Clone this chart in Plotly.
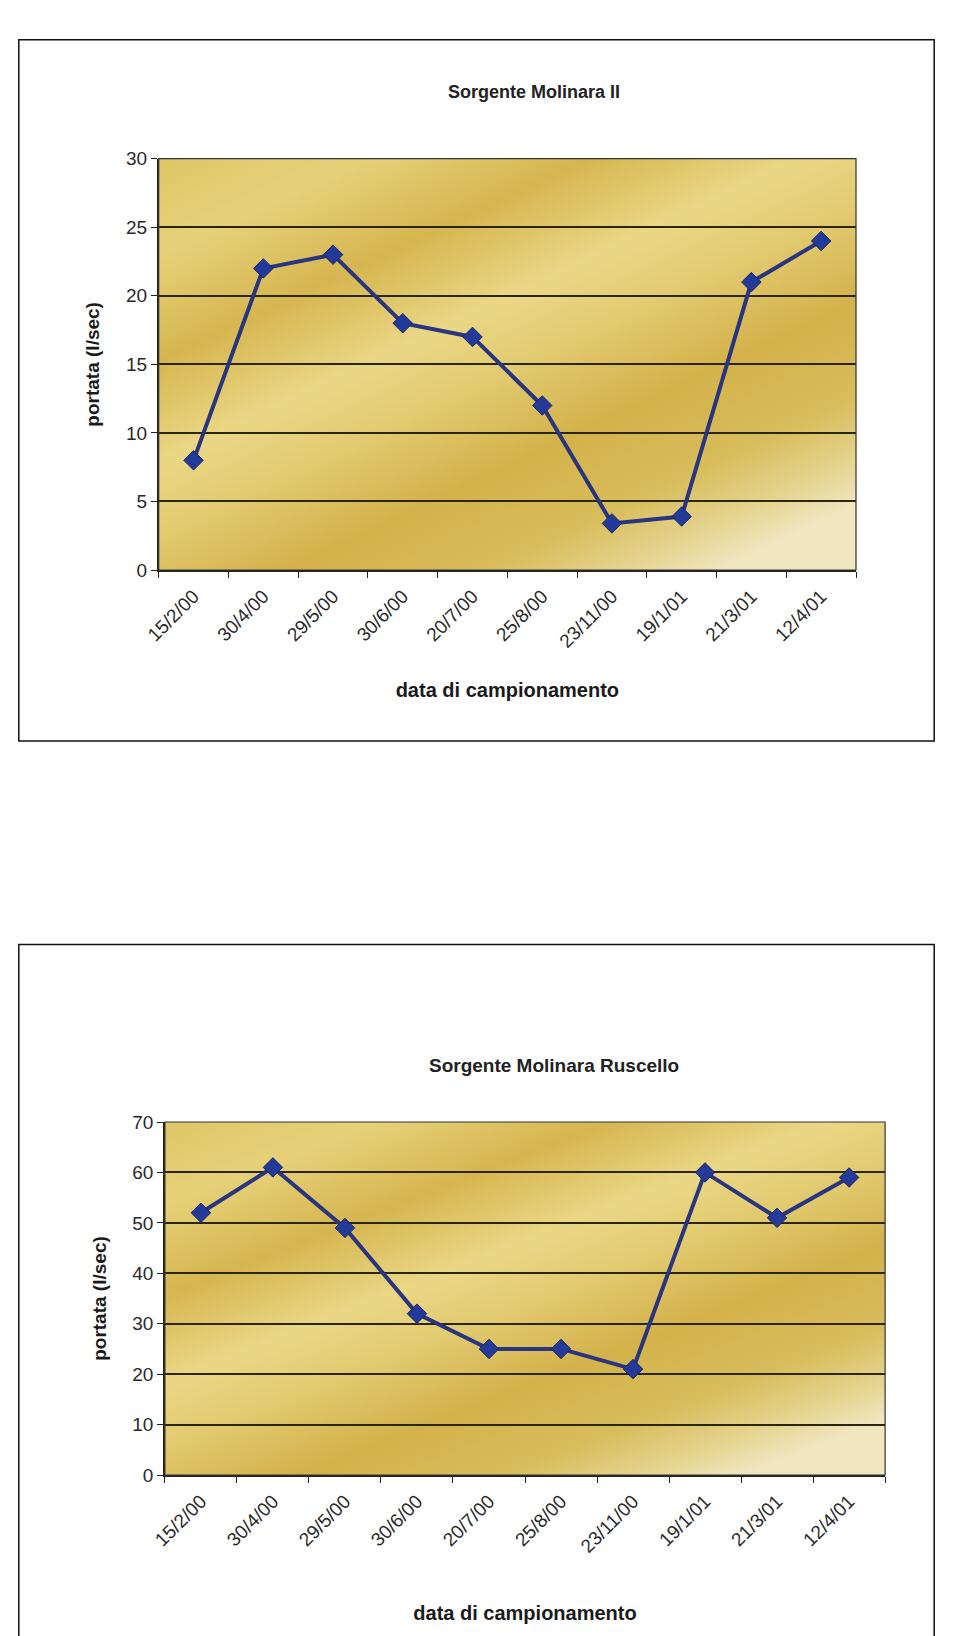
import base64
import plotly.graph_objects as go

# Sampling dates (category axis) and measured discharge in l/sec
date_labels = ["15/2/00", "30/4/00", "29/5/00", "30/6/00", "20/7/00",
               "25/8/00", "23/11/00", "19/1/01", "21/3/01", "12/4/01"]
portata_molinara_ii = [8, 22, 23, 18, 17, 12, 3.4, 3.9, 21, 24]
portata_ruscello = [52, 61, 49, 32, 25, 25, 21, 60, 51, 59]

titles = ["Sorgente Molinara II", "Sorgente Molinara Ruscello"]
y_ticks_top = [0, 5, 10, 15, 20, 25, 30]
y_ticks_bottom = [0, 10, 20, 30, 40, 50, 60, 70]

W, H = 954, 1636
FONT = "Arial, Liberation Sans, sans-serif"
LINE_COLOR = "#29357f"
MARKER_COLOR = "#243a98"


def px_x(x):
    return x / W


def px_y(y):
    return 1 - y / H


def gold_background():
    stops = [
        (0.00, "#dfc566"), (0.14, "#e6d17a"), (0.30, "#d6b650"),
        (0.45, "#ead786"), (0.56, "#e2ca70"), (0.70, "#d3b24b"),
        (0.84, "#d8bd5c"), (0.94, "#e6d694"), (1.00, "#f0e6c0"),
    ]
    stop_xml = "".join(
        f'<stop offset="{o}" stop-color="{c}"/>' for o, c in stops)
    svg = (
        '<svg xmlns="http://www.w3.org/2000/svg" width="200" height="200" '
        'viewBox="0 0 200 200" preserveAspectRatio="none">'
        '<defs><linearGradient id="g" x1="0" y1="0" x2="0.8" y2="1">'
        f'{stop_xml}</linearGradient></defs>'
        '<rect width="200" height="200" fill="url(#g)"/></svg>'
    )
    return "data:image/svg+xml;base64," + base64.b64encode(svg.encode()).decode()


bg = gold_background()

fig = go.Figure()

panels = [
    dict(values=portata_molinara_ii, ticks=y_ticks_top,
         box=(18.8, 39.7, 934.2, 741.1), closed=True,
         plot=(158.7, 158.7, 856.0, 570.0),
         title_xy=(534, 92), title_size=18, xstand=32),
    dict(values=portata_ruscello, ticks=y_ticks_bottom,
         box=(18.8, 944.6, 934.2, H), closed=False,
         plot=(164.9, 1122.0, 885.1, 1475.0),
         title_xy=(554, 1065), title_size=19, xstand=50),
]

for i, p in enumerate(panels):
    sfx = "" if i == 0 else "2"
    fig.add_trace(go.Scatter(
        x=date_labels, y=p["values"], xaxis="x" + sfx, yaxis="y" + sfx,
        mode="lines+markers",
        line=dict(color=LINE_COLOR, width=4),
        marker=dict(symbol="diamond", size=15, color=MARKER_COLOR,
                    line=dict(color="#1b2768", width=1)),
        showlegend=False, hoverinfo="x+y",
    ))

    x0, y0, x1, y1 = p["plot"]
    fig.update_layout(**{
        "xaxis" + sfx: dict(
            domain=[px_x(x0), px_x(x1)], anchor="y" + sfx,
            type="category", range=[-0.5, len(date_labels) - 0.5],
            tickson="boundaries", ticks="outside", ticklen=6,
            tickcolor="#222", tickwidth=1, showgrid=False,
            showline=True, linecolor="#222", linewidth=1.5,
            tickangle=-45, ticklabelstandoff=6, automargin=False,
            tickfont=dict(family=FONT, size=19, color="#2a2a2a"),
            title=dict(text="<b>data di campionamento</b>",
                       standoff=p["xstand"],
                       font=dict(family=FONT, size=20, color="#1a1a1a")),
        ),
        "yaxis" + sfx: dict(
            domain=[px_y(y1), px_y(y0)], anchor="x" + sfx,
            range=[0, p["ticks"][-1]], tickvals=p["ticks"],
            ticks="outside", ticklen=6, tickcolor="#222",
            showgrid=True, gridcolor="#2a2612", gridwidth=1.8,
            showline=True, linecolor="#222", linewidth=1.5,
            zeroline=False, automargin=False,
            tickfont=dict(family=FONT, size=19, color="#2a2a2a"),
            title=dict(text="<b>portata (l/sec)</b>", standoff=21,
                       font=dict(family=FONT, size=19, color="#1a1a1a")),
        ),
    })

    # plot area frame on top/right
    fig.add_shape(type="rect", xref=f"x{sfx} domain", yref=f"y{sfx} domain",
                  x0=0, x1=1, y0=0, y1=1,
                  line=dict(color="#333", width=1.2), layer="above")

    # gold gradient behind the data
    fig.add_layout_image(dict(
        source=bg, xref=f"x{sfx} domain", yref=f"y{sfx} domain",
        x=0, y=1, sizex=1, sizey=1, sizing="stretch",
        xanchor="left", yanchor="top", layer="below",
    ))

    # outer chart frame (the lower one runs off the bottom of the page)
    bx0, by0, bx1, by1 = p["box"]
    X0, X1, Yt, Yb = px_x(bx0), px_x(bx1), px_y(by0), px_y(by1)
    if p["closed"]:
        path = f"M{X0},{Yb} L{X0},{Yt} L{X1},{Yt} L{X1},{Yb} Z"
    else:
        path = f"M{X0},{Yb} L{X0},{Yt} L{X1},{Yt} L{X1},{Yb}"
    fig.add_shape(type="path", xref="paper", yref="paper", path=path,
                  line=dict(color="#111", width=1.5), layer="above")

    tx, ty = p["title_xy"]
    fig.add_annotation(
        text=f"<b>{titles[i]}</b>", xref="paper", yref="paper",
        x=px_x(tx), y=px_y(ty), xanchor="center", yanchor="middle",
        showarrow=False,
        font=dict(family=FONT, size=p["title_size"], color="#222"),
    )

fig.update_layout(
    width=W, height=H, autosize=False,
    margin=dict(l=0, r=0, t=0, b=0, autoexpand=False),
    paper_bgcolor="white", plot_bgcolor="rgba(0,0,0,0)",
)

fig.write_html("out.html")
